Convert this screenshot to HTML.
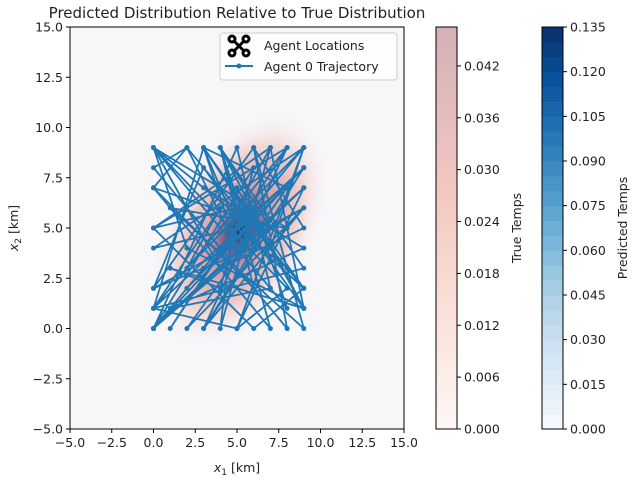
<!DOCTYPE html>
<html><head><meta charset="utf-8"><style>
body{margin:0;background:#fff;}
svg text{font-family:"DejaVu Sans","Liberation Sans",sans-serif;font-size:12.5px;fill:#222;}
</style></head><body>
<svg id="chart" width="640" height="480" xmlns="http://www.w3.org/2000/svg">
<defs>
<radialGradient id="blob" cx="0.5" cy="0.5" r="0.5">
<stop offset="0" stop-color="#2e2556"/>
<stop offset="0.15" stop-color="#7a5482"/>
<stop offset="0.35" stop-color="#d49ea6"/>
<stop offset="0.65" stop-color="#f1cdc8"/>
<stop offset="1" stop-color="#f7f6f9" stop-opacity="0"/>
</radialGradient>
<linearGradient id="redsbar" x1="0" y1="1" x2="0" y2="0">
<stop offset="0" stop-color="#fdf7f5"/>
<stop offset="0.3" stop-color="#f9e0d8"/>
<stop offset="0.6" stop-color="#f3c7c2"/>
<stop offset="1" stop-color="#d4b0b7"/>
</linearGradient>
<clipPath id="plotclip"><rect x="70" y="27" width="334" height="402"/></clipPath>
</defs>
<text x="237" y="18" text-anchor="middle" style="font-size:15px">Predicted Distribution Relative to True Distribution</text>
<g id="plot" clip-path="url(#plotclip)">
<rect x="70" y="27" width="334" height="402" fill="#f7f6f9"/>
<ellipse cx="240" cy="230" rx="75" ry="130" fill="url(#blob)" transform="rotate(28 240 230)"/>
<g id="traj"></g>
</g>
<rect x="70" y="27" width="334" height="402" fill="none" stroke="#000" stroke-width="1"/>
<g id="axes"></g>
<text x="237" y="472" text-anchor="middle"><tspan font-style="italic">x</tspan><tspan dy="3" style="font-size:9px">1</tspan><tspan dy="-3"> [km]</tspan></text>
<text transform="translate(18 228) rotate(-90)" text-anchor="middle"><tspan font-style="italic">x</tspan><tspan dy="3" style="font-size:9px">2</tspan><tspan dy="-3"> [km]</tspan></text>
<g>
<rect x="220" y="33" width="177" height="47" rx="3" fill="#fff" fill-opacity="0.85" stroke="#ccc"/>
<g stroke="#000" stroke-width="3" fill="none">
<line x1="233" y1="40" x2="245" y2="52"/><line x1="245" y1="40" x2="233" y2="52"/>
<circle cx="232" cy="39" r="3"/><circle cx="246" cy="39" r="3"/><circle cx="232" cy="53" r="3"/><circle cx="246" cy="53" r="3"/>
</g>
<text x="264" y="50">Agent Locations</text>
<line x1="225" y1="66" x2="253" y2="66" stroke="#1f77b4" stroke-width="2"/>
<circle cx="239" cy="66" r="2.5" fill="#1f77b4"/>
<text x="264" y="71">Agent 0 Trajectory</text>
</g>
<rect x="436" y="27" width="21" height="402" fill="url(#redsbar)" stroke="#000"/>
<text transform="translate(521 228) rotate(-90)" text-anchor="middle">True Temps</text>
<g id="bluebar"></g>
<text transform="translate(627 228) rotate(-90)" text-anchor="middle">Predicted Temps</text>
</svg>
<script>
const NS="http://www.w3.org/2000/svg";
const xTicks=[-5,-2.5,0,2.5,5,7.5,10,12.5,15];
const yTicks=[-5,-2.5,0,2.5,5,7.5,10,12.5,15];
const trueTicks=[0,0.006,0.012,0.018,0.024,0.030,0.036,0.042];
const predTicks=[0,0.015,0.030,0.045,0.060,0.075,0.090,0.105,0.120,0.135];
const trajX=[0,9,0,5,9,2,0,7,4,9,3,0,6,9,1,8,0,4,9,5,0,3,7,9,0,6,2,9,5,1,8,0,9,4,6,0,7,3,9,5,2,0,8,6,9,4,0,5,7,1,9,3,6,0,8,5,9,2,4,0,9,6,3,8,0,5,7,9,1,4,6,0,9,5,3,8,2,9,0,6,4,7,0,9,5,3,6,8,0,2,9,5,4,7,0,6,9,3,5,8];
const trajY=[0,9,4,5,2,9,7,0,9,1,8,2,9,0,6,5,9,3,7,0,1,9,4,9,0,6,2,8,5,0,9,1,3,9,2,7,5,0,6,4,9,8,0,9,5,3,0,9,2,1,4,7,5,9,2,0,9,3,6,1,8,4,0,9,5,6,9,1,3,2,8,0,7,4,9,7,0,6,2,4,9,5,0,8,5,3,6,1,9,4,1,7,0,9,5,0,2,9,5,3];
const X=v=>70+(v+5)/20*334, Y=v=>429-(v+5)/20*402;
const TY=v=>429-v/0.0465*402, PY=v=>429-v/0.135*402;
const fmt=v=>v.toFixed(1).replace('-','\u2212');
function el(t,a,p){const e=document.createElementNS(NS,t);for(const k in a)e.setAttribute(k,a[k]);p.appendChild(e);return e;}
const axes=document.getElementById('axes');
xTicks.forEach(v=>{const g=el('g',{},axes);


el('line',{x1:X(v),x2:X(v),y1:429,y2:433,stroke:'#000'},g);
const t=el('text',{x:X(v),y:447,'text-anchor':'middle'},g);t.textContent=fmt(v);});
yTicks.forEach(v=>{const g=el('g',{},axes);


el('line',{x1:66,x2:70,y1:Y(v),y2:Y(v),stroke:'#000'},g);
const t=el('text',{x:63,y:Y(v)+4.5,'text-anchor':'end'},g);t.textContent=fmt(v);});
const traj=document.getElementById('traj');
let pts=trajX.map((x,i)=>X(x)+','+Y(trajY[i])).join(' ');
const pl=el('polyline',{points:pts,fill:'none',stroke:'#1f77b4','stroke-width':1.8},traj);


trajX.forEach((x,i)=>{const c=el('circle',{cx:X(x),cy:Y(trajY[i]),r:2.5,fill:'#1f77b4'},traj);

});
trueTicks.forEach(v=>{const g=el('g',{},axes);


el('line',{x1:457,x2:461,y1:TY(v),y2:TY(v),stroke:'#000'},g);
const t=el('text',{x:464,y:TY(v)+4.5},g);t.textContent=v.toFixed(3);});
const bb=document.getElementById('bluebar');
const blues=['#f7fbff','#deebf7','#c6dbef','#9ecae1','#6baed6','#4292c6','#2171b5','#08519c','#08306b'];
function lerp(a,b,t){const p=s=>[1,3,5].map(i=>parseInt(s.substr(i,2),16));const A=p(a),B=p(b);return 'rgb('+A.map((x,i)=>Math.round(x+(B[i]-x)*t)).join(',')+')';}
for(let i=0;i<27;i++){const f=(i+0.5)/27*8;const k=Math.min(7,Math.floor(f));
const r=el('rect',{x:542,y:PY((i+1)*0.005),width:21,height:PY(i*0.005)-PY((i+1)*0.005)+0.5,fill:lerp(blues[k],blues[k+1],f-k)},bb);

}
el('rect',{x:542,y:27,width:21,height:402,fill:'none',stroke:'#000'},bb);
predTicks.forEach(v=>{const g=el('g',{},axes);


el('line',{x1:563,x2:567,y1:PY(v),y2:PY(v),stroke:'#000'},g);
const t=el('text',{x:570,y:PY(v)+4.5},g);t.textContent=v.toFixed(3);});
</script>
</body></html>
